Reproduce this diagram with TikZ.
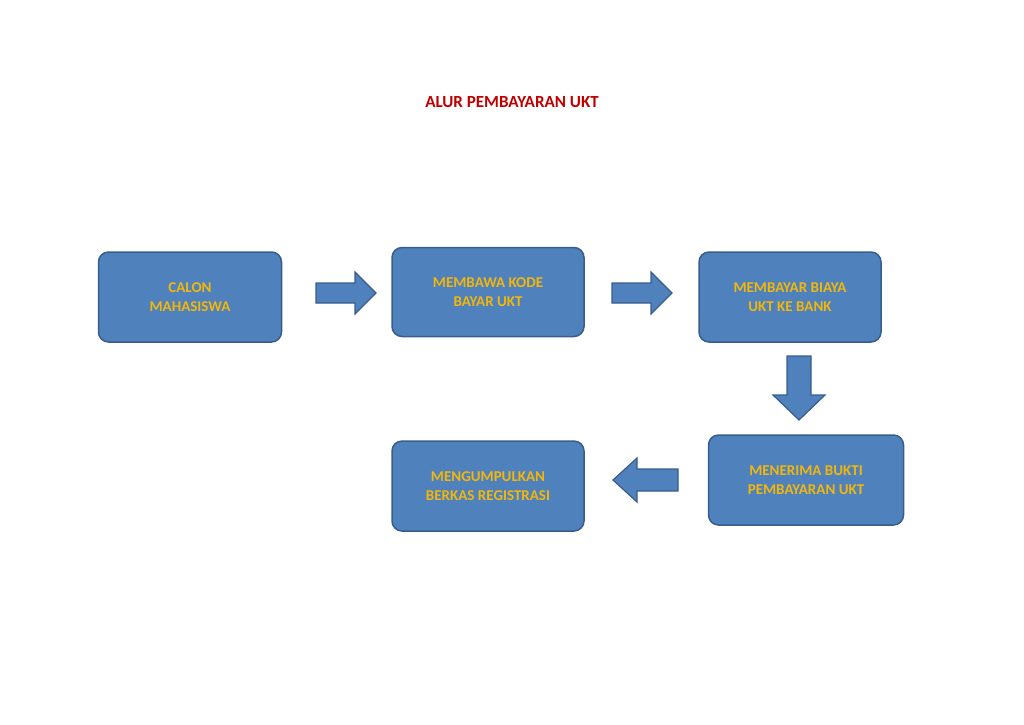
\documentclass[tikz,border=0pt]{standalone}
\usepackage{fontspec}
\setmainfont{Carlito}
\begin{document}
\begin{tikzpicture}[x=1pt,y=-1pt,
  box/.style={draw=boxline,line width=1.5pt,fill=boxfill,rounded corners=10pt,
    text=txt,font=\bfseries\fontsize{15}{19}\selectfont,align=center,inner sep=0pt},
  barrow/.style={draw=boxline,line width=1.2pt,fill=boxfill}]
\definecolor{boxfill}{HTML}{4F81BD}
\definecolor{boxline}{HTML}{385D8A}
\definecolor{txt}{HTML}{F2B70A}
\definecolor{ttl}{HTML}{C00000}
\useasboundingbox (0,0) rectangle (1024,724);
\node[text=ttl,font=\bfseries\fontsize{17}{20}\selectfont] (title) at (512,102) {ALUR PEMBAYARAN UKT};
\node[box,minimum width=183pt,minimum height=90pt] (b1) at (190,297) {CALON\\MAHASISWA};
\node[box,minimum width=192pt,minimum height=89pt] (b2) at (488,292) {MEMBAWA KODE\\BAYAR UKT};
\node[box,minimum width=182pt,minimum height=90pt] (b3) at (790,297) {MEMBAYAR BIAYA\\UKT KE BANK};
\node[box,minimum width=195pt,minimum height=90pt] (b4) at (806,480) {MENERIMA BUKTI\\PEMBAYARAN UKT};
\node[box,minimum width=192pt,minimum height=90pt] (b5) at (488,486) {MENGUMPULKAN\\BERKAS REGISTRASI};
% right arrows
\draw[barrow] (316,283) -- (355,283) -- (355,272) -- (376,293) -- (355,314) -- (355,303) -- (316,303) -- cycle;
\draw[barrow] (612,283) -- (651,283) -- (651,272) -- (672,293) -- (651,314) -- (651,303) -- (612,303) -- cycle;
% down arrow
\draw[barrow] (787,356) -- (811,356) -- (811,395) -- (825,395) -- (799,420) -- (773,395) -- (787,395) -- cycle;
% left arrow
\draw[barrow] (678,469) -- (637,469) -- (637,458) -- (613,480) -- (637,502) -- (637,491) -- (678,491) -- cycle;
\end{tikzpicture}
\end{document}
